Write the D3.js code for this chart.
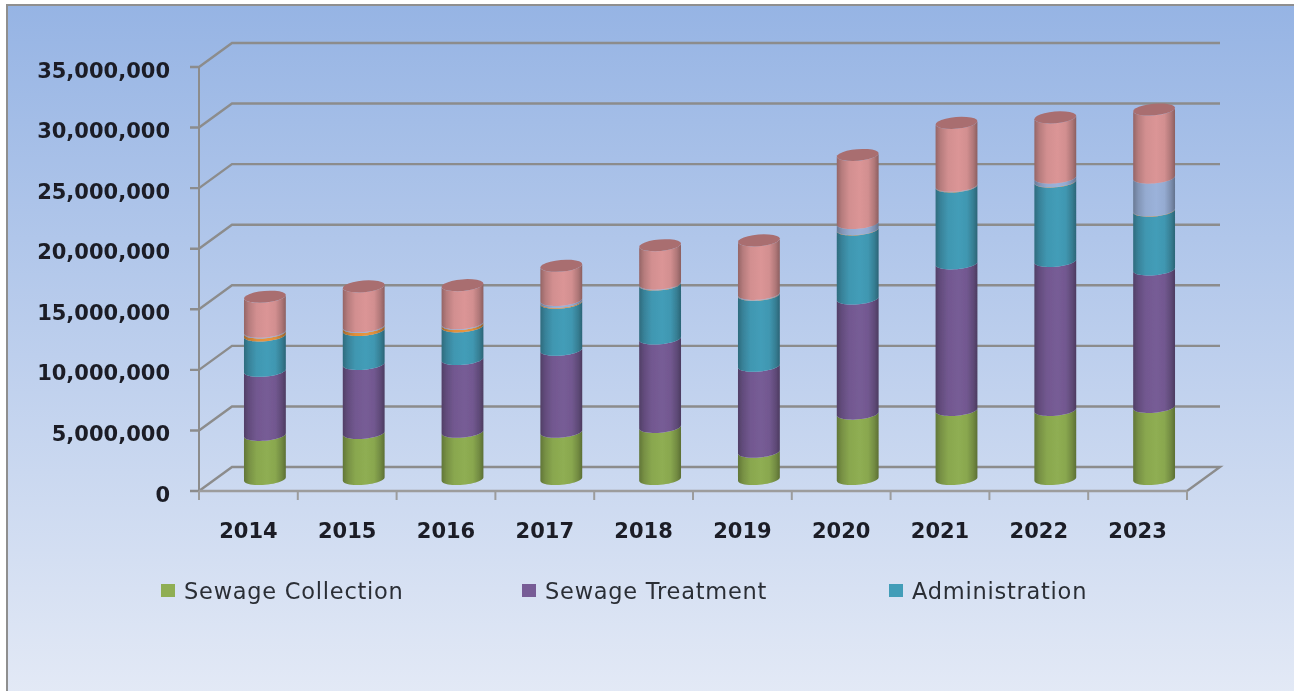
<!DOCTYPE html>
<html><head><meta charset="utf-8">
<script src="https://cdnjs.cloudflare.com/ajax/libs/d3/7.8.5/d3.min.js"></script>
<style>html,body{margin:0;padding:0;background:#fff;overflow:hidden}svg{display:block}</style>
</head><body><svg id="c" width="1294" height="691"></svg>
<script>
const years = ["2014","2015","2016","2017","2018","2019","2020","2021","2022","2023"];
const sewageCollection = [3640000,3800000,3900000,3900000,4300000,2250000,5400000,5700000,5700000,5950000];
const sewageTreatment = [5290000,5700000,6000000,6770000,7300000,7100000,9500000,12100000,12300000,11350000];
const administration = [2920000,2800000,2700000,3880000,4450000,5850000,5700000,6350000,6550000,4850000];
const orangeSeries = [250000,250000,200000,80000,30000,30000,30000,30000,30000,30000];
const lightBlueSeries = [60000,60000,60000,150000,50000,50000,500000,30000,300000,2700000];
const pinkSeries = [2890000,3290000,3140000,2820000,3170000,4420000,5620000,5190000,4970000,5620000];
const seriesValues = [sewageCollection,sewageTreatment,administration,orangeSeries,lightBlueSeries,pinkSeries];
const seriesColors = ["#8fae52","#775c96","#439db8","#e8953f","#9bb2da","#db9596"];
const legendLabels = ["Sewage Collection","Sewage Treatment","Administration"];
const yTicks = [0,5000000,10000000,15000000,20000000,25000000,30000000,35000000];

const svg = d3.select("#c");
const defs = svg.append("defs");
const bg = defs.append("linearGradient").attr("id","bg").attr("x1",0).attr("y1",0).attr("x2",0).attr("y2",1);
bg.append("stop").attr("offset","0%").attr("stop-color","#96b4e4");
bg.append("stop").attr("offset","100%").attr("stop-color","#e4eaf6");
defs.append("filter").attr("id","soft").attr("filterUnits","userSpaceOnUse")
  .attr("x",0).attr("y",0).attr("width",1294).attr("height",691)
  .append("feGaussianBlur").attr("stdDeviation",0.7);

seriesColors.forEach((c,i)=>{
  const g = defs.append("linearGradient").attr("id","cyl"+i).attr("gradientUnits","objectBoundingBox")
    .attr("x1",0).attr("y1",0).attr("x2",1).attr("y2",0);
  const col = d3.rgb(c);
  [[0,0.68],[0.12,0.83],[0.3,0.96],[0.55,1],[0.75,0.96],[0.9,0.8],[1,0.64]].forEach(([o,k])=>{
    g.append("stop").attr("offset",o*100+"%")
     .attr("stop-color",d3.rgb(col.r*k,col.g*k,col.b*k).formatHex());
  });
});

svg.append("rect").attr("x",7).attr("y",5).attr("width",1290).attr("height",700)
  .attr("fill","url(#bg)").attr("stroke","#8f8f8f").attr("stroke-width",2);

const root = svg.append("g").attr("filter","url(#soft)");
const x = d3.scaleBand().domain(years).range([199,1187]);
const y = d3.scaleLinear().domain([0,35000000]).range([491,67]);
const depthX = 33, depthY = 24;
const grid = "#8c8c8c";
const [x0, x1] = x.range();

yTicks.forEach(t=>{
  const yy = y(t);
  const tail = t>0 ? "" : `L${x1},${yy}`;
  root.append("path").attr("fill","none").attr("stroke",grid).attr("stroke-width",2.4)
    .attr("d",`M${x0-9},${yy}H${x0}L${x0+depthX},${yy-depthY}H${x1+depthX}${tail}`);
});
root.append("line").attr("x1",x0).attr("x2",x0).attr("y1",y(35000000)).attr("y2",y(0)+8)
  .attr("stroke",grid).attr("stroke-width",2);
root.append("line").attr("x1",x0).attr("x2",x1).attr("y1",y(0)).attr("y2",y(0))
  .attr("stroke","#9c9c9c").attr("stroke-width",2.4);
d3.range(years.length+1).forEach(i=>{
  const px = x0 + i*x.bandwidth();
  root.append("line").attr("x1",px).attr("x2",px).attr("y1",y(0)).attr("y2",y(0)+9)
    .attr("stroke","#9c9c9c").attr("stroke-width",2);
});

const fmt = d3.format(",");
root.selectAll("text.yl").data(yTicks).join("text").attr("class","yl")
  .attr("x",170).attr("y",d=>y(d)+4.5).attr("text-anchor","end").attr("dominant-baseline","middle")
  .attr("font-family","'DejaVu Sans'").attr("font-weight","bold").attr("font-size",21).attr("fill","#1b1f26")
  .text(d=>fmt(d));
root.selectAll("text.xl").data(years).join("text").attr("class","xl")
  .attr("x",d=>x(d)+x.bandwidth()/2).attr("y",532).attr("text-anchor","middle").attr("dominant-baseline","middle")
  .attr("font-family","'DejaVu Sans'").attr("font-weight","bold").attr("font-size",21).attr("fill","#1b1f26")
  .text(d=>d);

const rx = 21, ry = 5.8, theta = -5*Math.PI/180;
const yAt = v => y(v)-depthY/2;
function rim(cx,cy,from,to){
  return d3.range(0,25).map(j=>{
    const t = from+(to-from)*j/24;
    return [cx+rx*Math.cos(t)*Math.cos(theta)-ry*Math.sin(t)*Math.sin(theta),
            cy+rx*Math.cos(t)*Math.sin(theta)+ry*Math.sin(t)*Math.cos(theta)];
  });
}
const closed = d3.line().curve(d3.curveLinearClosed);
years.forEach((yr,i)=>{
  const cx = x(yr)+x.bandwidth()/2+depthX/2;
  let cum = 0;
  seriesValues.forEach((s,k)=>{
    const lower = rim(cx,yAt(cum),0,Math.PI);
    const upper = rim(cx,yAt(cum+s[i]),Math.PI,0);
    root.append("path").attr("fill",`url(#cyl${k})`).attr("d",closed(lower.concat(upper)));
    cum += s[i];
  });
  const col = d3.rgb(seriesColors[seriesColors.length-1]);
  root.append("path").attr("fill",d3.rgb(col.r*0.77,col.g*0.74,col.b*0.74).formatHex())
    .attr("d",closed(rim(cx,yAt(cum),0,2*Math.PI)));
});

const legendX = d3.scaleOrdinal().domain(legendLabels).range([161,522,889]);
const lg = root.selectAll("g.lg").data(legendLabels).join("g").attr("class","lg")
  .attr("transform",d=>`translate(${legendX(d)},584)`);
lg.append("rect").attr("width",14).attr("height",13).attr("fill",(d,i)=>seriesColors[i]);
lg.append("text").attr("x",23).attr("y",8).attr("dominant-baseline","middle")
  .attr("font-family","'DejaVu Sans'").attr("font-size",22.5).attr("letter-spacing",0.75).attr("fill","#2b2f36").text(d=>d);
</script></body></html>
